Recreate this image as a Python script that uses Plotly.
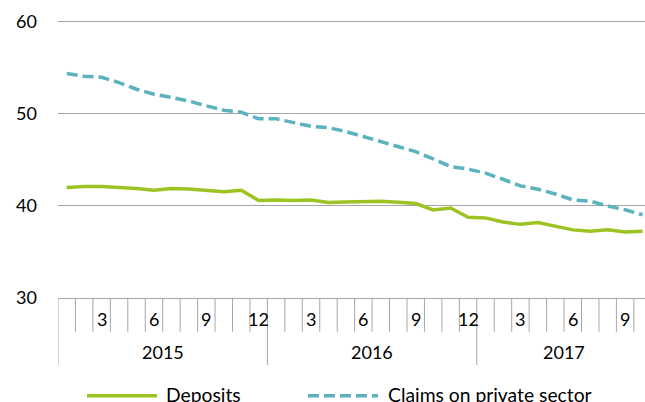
import plotly.graph_objects as go

# ---- data ----
years = ["2015", "2016", "2017"]
months_per_year = [12, 12, 10]
month_labels = []
for n in months_per_year:
    month_labels += [str(m) for m in range(1, n + 1)]

deposits = [42.0, 42.1, 42.1, 42.0, 41.9, 41.7, 41.9, 41.85, 41.7, 41.55, 41.7, 40.6,
            40.65, 40.6, 40.65, 40.37, 40.43, 40.5, 40.52, 40.4, 40.26, 39.57, 39.78, 38.77,
            38.7, 38.26, 38.0, 38.2, 37.83, 37.4, 37.25, 37.4, 37.18, 37.25]
claims = [54.38, 54.09, 53.98, 53.4, 52.68, 52.14, 51.8, 51.4, 50.87, 50.4, 50.18, 49.46,
          49.46, 49.1, 48.66, 48.5, 48.08, 47.54, 46.96, 46.45, 45.9, 45.11, 44.28, 44.0,
          43.56, 42.9, 42.18, 41.82, 41.3, 40.66, 40.52, 40.0, 39.58, 39.04]
series_names = ["Deposits", "Claims on private sector"]
series_colors = ["#9BC423", "#5BB3BE"]

x = list(range(1, len(month_labels) + 1))

W, H = 645, 402
Y_MIN, Y_MAX = 30, 60.2
unit_px = 9.21
ML, MR, MB = 58, 0, 104
MT = (H - MB) - (Y_MAX - Y_MIN) * unit_px
PW = W - ML - MR
PH = H - MT - MB
month_px = 17.45
x_range = [0.5, 0.5 + PW / month_px]

FONT = "Lato, 'Open Sans', sans-serif"
FS = 18
GRID = "#A6A6A6"
DASH = "11px,5px"


def py(px):  # pixel y (from top) -> paper y
    return (H - MB - px) / PH


def pxx(px):  # pixel x -> paper x
    return (px - ML) / PW


fig = go.Figure()
fig.add_trace(go.Scatter(x=x, y=deposits, mode="lines", name=series_names[0],
                         line=dict(color=series_colors[0], width=3.5), showlegend=False))
fig.add_trace(go.Scatter(x=x, y=claims, mode="lines", name=series_names[1],
                         line=dict(color=series_colors[1], width=3.5, dash=DASH),
                         showlegend=False))

shapes = []
annotations = []
# category boundary ticks
year_bounds = [0]
for n in months_per_year:
    year_bounds.append(year_bounds[-1] + n)
for k in range(len(month_labels) + 1):
    xb = k + 0.5
    if xb > x_range[1]:
        continue
    is_year = k in year_bounds
    shapes.append(dict(type="line", xref="x", yref="paper", x0=xb, x1=xb,
                       y0=0, y1=py(365 if is_year else 331.7),
                       line=dict(color=GRID, width=1)))
# month labels
for i, lab in enumerate(month_labels):
    if int(lab) % 3 == 0:
        annotations.append(dict(x=x[i], y=py(319), xref="x", yref="paper", text=lab,
                                showarrow=False, xanchor="center", yanchor="middle",
                                font=dict(family=FONT, size=FS, color="#000")))
# year labels
for j, yr in enumerate(years):
    cx = (year_bounds[j] + year_bounds[j + 1]) / 2 + 0.5
    annotations.append(dict(x=cx, y=py(352), xref="x", yref="paper", text=yr,
                            showarrow=False, xanchor="center", yanchor="middle",
                            font=dict(family=FONT, size=FS, color="#000")))

# legend (manual)
leg = [(87, 157, 164), (308, 378, 386)]
for (x0, x1, tx), name, col, dash in zip(leg, series_names, series_colors, ["solid", DASH]):
    shapes.append(dict(type="line", xref="paper", yref="paper", x0=pxx(x0), x1=pxx(x1),
                       y0=py(395.7), y1=py(395.7), line=dict(color=col, width=3.5, dash=dash)))
    annotations.append(dict(x=pxx(tx), y=py(395), xref="paper", yref="paper", text=name,
                            showarrow=False, xanchor="left", yanchor="middle",
                            font=dict(family=FONT, size=19.3, color="#000")))

fig.update_layout(
    width=W, height=H,
    margin=dict(l=ML, r=MR, t=MT, b=MB, pad=0),
    paper_bgcolor="white", plot_bgcolor="white",
    shapes=shapes, annotations=annotations,
    xaxis=dict(range=x_range, showgrid=False, zeroline=False, showticklabels=False,
               ticks="", showline=True, linecolor=GRID, linewidth=1),
    yaxis=dict(range=[Y_MIN, Y_MAX], tickvals=[30, 40, 50, 60], showgrid=True,
               gridcolor=GRID, gridwidth=1.3, zeroline=False, showline=False, ticks="",
               ticklabelstandoff=20,
               tickfont=dict(family=FONT, size=FS, color="#000")),
    showlegend=False,
)
fig.write_html("out.html", config={"displayModeBar": False},
               post_script="document.body.style.margin='0';document.body.style.overflow='hidden';")
